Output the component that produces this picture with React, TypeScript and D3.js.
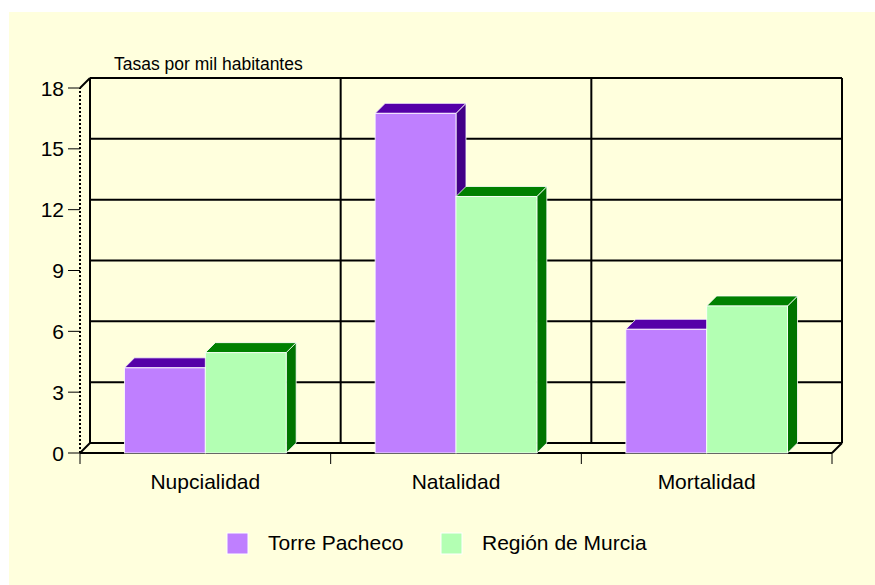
import * as d3 from "d3";

const categories = ["Nupcialidad", "Natalidad", "Mortalidad"];
const seriesNames = ["Torre Pacheco", "Región de Murcia"];
const torrePacheco = [4.2, 16.75, 6.1];
const regionMurcia = [4.95, 12.65, 7.25];
const yTicks = [0, 3, 6, 9, 12, 15, 18];
const yTitle = "Tasas por mil habitantes";

const width = 875;
const height = 585;
const depth = 10; // 3D offset (x right, y up)

const palette = [
  { front: "#bf7fff", top: "#5500a8", side: "#420087" },
  { front: "#b3ffb3", top: "#008000", side: "#007400" },
];

const font = "Arial, 'Liberation Sans', sans-serif";

export default function App() {
  const values = [torrePacheco, regionMurcia];

  const x0 = d3.scaleBand().domain(categories).range([80, 832]).padding(0);
  const bw = x0.bandwidth();
  const groupW = bw * 0.645;
  const x1 = d3
    .scaleBand()
    .domain(seriesNames)
    .range([(bw - groupW) / 2, (bw + groupW) / 2])
    .padding(0);

  const y = d3.scaleLinear().domain([0, 18]).range([453, 88]);

  const [fx0, fx1] = x0.range();
  const bx0 = fx0 + depth;
  const bx1 = fx1 + depth;
  const yb = (v: number) => y(v) - depth;

  return (
    <div style={{ position: "absolute", left: 0, top: 0 }}>
      <svg width={width} height={height} style={{ display: "block" }}>
        <rect x={0} y={0} width={width} height={height} fill="#ffffff" />
        <rect x={9} y={12} width={width - 9} height={height - 12} fill="#ffffdd" />

        {/* axis title */}
        <text x={114} y={70} fontFamily={font} fontSize={17.5} fill="#000">
          {yTitle}
        </text>

        {/* back wall grid */}
        <g stroke="#000" strokeWidth={2} fill="none">
          {yTicks.slice(1).map((t) => (
            <line key={`g-${t}`} x1={bx0} x2={bx1} y1={yb(t)} y2={yb(t)} />
          ))}
          {categories.slice(1).map((c) => (
            <line
              key={`v-${c}`}
              x1={x0(c)! + depth}
              x2={x0(c)! + depth}
              y1={yb(18)}
              y2={yb(0)}
            />
          ))}
          <line x1={bx1} x2={bx1} y1={yb(18)} y2={yb(0)} />
          <line x1={bx0} x2={bx0} y1={yb(18)} y2={yb(0)} />
          {/* floor */}
          <line x1={bx0} x2={bx1} y1={yb(0)} y2={yb(0)} />
          <line x1={fx0} x2={fx1} y1={y(0)} y2={y(0)} />
          <line x1={fx1} x2={bx1} y1={y(0)} y2={yb(0)} />
          <line x1={fx0} x2={bx0} y1={y(0)} y2={yb(0)} />
          <line x1={fx0} x2={bx0} y1={y(18)} y2={yb(18)} />
        </g>

        {/* front y axis (dotted) and ticks */}
        <line
          x1={fx0}
          x2={fx0}
          y1={y(0)}
          y2={y(18)}
          stroke="#000"
          strokeWidth={2}
          strokeDasharray="2,2"
        />
        <g fontFamily={font} fontSize={21} fill="#000">
          {yTicks.map((t) => (
            <g key={`t-${t}`}>
              <line x1={fx0 - 12} x2={fx0} y1={y(t)} y2={y(t)} stroke="#000" strokeWidth={1} />
              <text x={64} y={y(t) + 7.5} textAnchor="end">
                {t}
              </text>
            </g>
          ))}
        </g>

        {/* x ticks */}
        <g stroke="#000" strokeWidth={1}>
          {[...categories.map((c) => x0(c)!), fx1].map((xv, i) => (
            <line key={`xt-${i}`} x1={xv} x2={xv} y1={y(0)} y2={y(0) + 11} />
          ))}
        </g>

        {/* bars */}
        {categories.map((c, ci) => (
          <g key={`cat-${c}`} transform={`translate(${x0(c)},0)`}>
            {seriesNames.map((s, si) => {
              const v = values[si][ci];
              const xl = x1(s)!;
              const xr = xl + x1.bandwidth();
              const yt = y(v);
              const yz = y(0);
              const col = palette[si];
              return (
                <g key={`bar-${c}-${s}`} stroke="#ffffff" strokeWidth={1} strokeOpacity={0.8}>
                  <path
                    d={`M${xr},${yz} L${xr + depth},${yz - depth} L${xr + depth},${yt - depth} L${xr},${yt} Z`}
                    fill={col.side}
                  />
                  <path
                    d={`M${xl},${yt} L${xl + depth},${yt - depth} L${xr + depth},${yt - depth} L${xr},${yt} Z`}
                    fill={col.top}
                  />
                  <rect x={xl} y={yt} width={xr - xl} height={yz - yt} fill={col.front} />
                </g>
              );
            })}
          </g>
        ))}

        {/* category labels */}
        <g fontFamily={font} fontSize={21} fill="#000" textAnchor="middle">
          {categories.map((c) => (
            <text key={`l-${c}`} x={x0(c)! + bw / 2} y={489}>
              {c}
            </text>
          ))}
        </g>

        {/* legend */}
        <g fontFamily={font} fontSize={21} fill="#000">
          {seriesNames.map((s, i) => {
            const lx = [227, 441][i];
            return (
              <g key={`lg-${s}`}>
                <rect
                  x={lx}
                  y={533}
                  width={21}
                  height={21}
                  fill={palette[i].front}
                  stroke="#ffffff"
                  strokeWidth={1}
                />
                <text x={lx + 41} y={550}>
                  {s}
                </text>
              </g>
            );
          })}
        </g>
      </svg>
    </div>
  );
}
